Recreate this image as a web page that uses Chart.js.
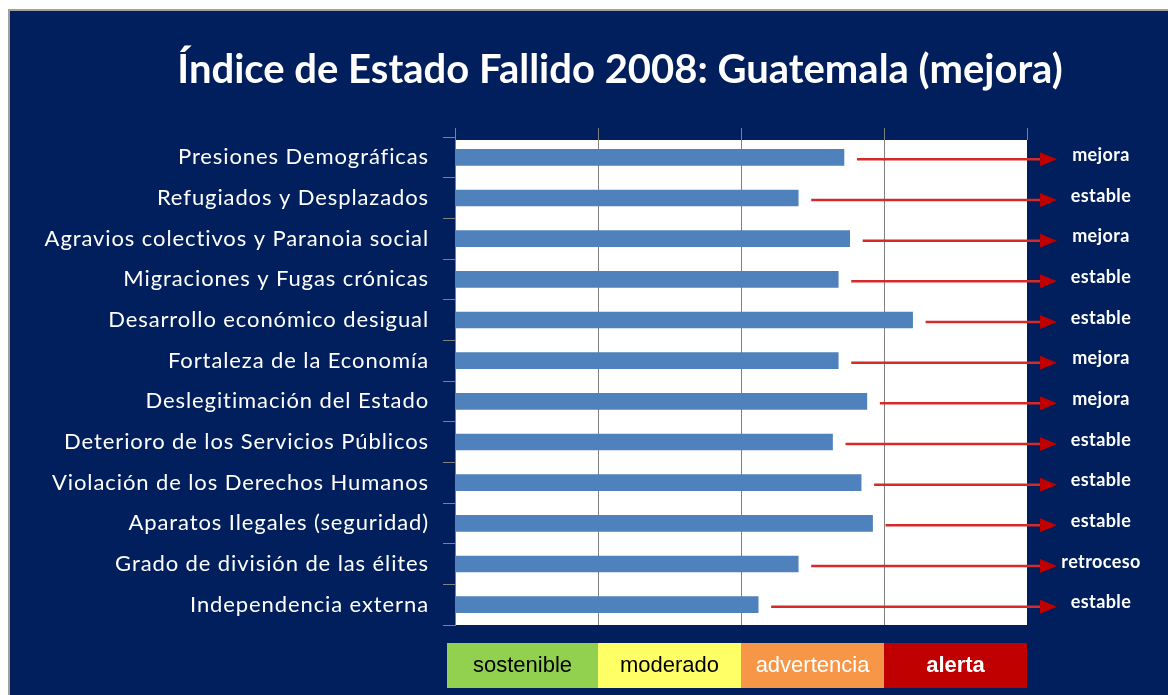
<!DOCTYPE html>
<html>
<head>
<meta charset="utf-8">
<script src="https://cdn.jsdelivr.net/npm/chart.js@4"></script>
<style>
  html, body { margin: 0; padding: 0; background: #fff; }
  #wrap { width: 1168px; height: 695px; position: relative; }
</style>
</head>
<body>
<div id="wrap"><canvas id="fsi"></canvas></div>
<script>
// Índice de Estado Fallido 2008 — Guatemala

const categories = [
  "Presiones Demográficas",
  "Refugiados y Desplazados",
  "Agravios colectivos y Paranoia social",
  "Migraciones y Fugas crónicas",
  "Desarrollo económico desigual",
  "Fortaleza de la Economía",
  "Deslegitimación del Estado",
  "Deterioro de los Servicios Públicos",
  "Violación de los Derechos Humanos",
  "Aparatos Ilegales (seguridad)",
  "Grado de división de las élites",
  "Independencia externa"
];
const scores = [6.8, 6.0, 6.9, 6.7, 8.0, 6.7, 7.2, 6.6, 7.1, 7.3, 6.0, 5.3];
const trends = ["mejora", "estable", "mejora", "estable", "estable", "mejora",
                "mejora", "estable", "estable", "estable", "retroceso", "estable"];
const zoneLabels = ["sostenible", "moderado", "advertencia", "alerta"];
const zoneColors = ["#92d050", "#ffff66", "#f79646", "#c00000"];
const zoneText = ["#000", "#000", "#fff", "#fff"];
const titleText = "Índice de Estado Fallido 2008: Guatemala (mejora)";

const NAVY = "#001f5c";

const decor = {
  id: "decor",
  beforeDraw(chart) {
    const ctx = chart.ctx;
    const a = chart.chartArea;
    ctx.save();
    ctx.fillStyle = "#fff";
    ctx.fillRect(0, 0, chart.width, chart.height);
    ctx.fillStyle = "#a0a0a0";
    ctx.fillRect(8, 9, chart.width, 3);
    ctx.fillRect(8, 9, 3, chart.height);
    ctx.fillStyle = NAVY;
    ctx.fillRect(10, 11, chart.width, chart.height);
    // plot area
    ctx.fillStyle = "#fff";
    ctx.fillRect(a.left, a.top + 3, a.right - a.left, a.bottom - a.top - 3);
    ctx.restore();
    // wider spacing for the category labels (Calibri look)
    ctx.letterSpacing = "0.9px";
  },
  afterDraw(chart) {
    const ctx = chart.ctx;
    const a = chart.chartArea;
    const x = chart.scales.x;
    const y = chart.scales.y;
    ctx.save();
    ctx.letterSpacing = "0px";

    // grid stubs above the plot
    ctx.strokeStyle = "#808080";
    ctx.lineWidth = 1;
    [0, 2.5, 5, 7.5, 10].forEach(v => {
      const px = Math.round(x.getPixelForValue(v)) + 0.5;
      ctx.beginPath();
      ctx.moveTo(px, a.top - 9);
      ctx.lineTo(px, a.top + 3);
      ctx.stroke();
    });

    // title
    ctx.fillStyle = "#fff";
    ctx.font = "bold 40px Lato";
    ctx.textAlign = "center";
    ctx.textBaseline = "middle";
    ctx.fillText(titleText, 620, 70);

    // trend arrows
    const tipX = x.getPixelForValue(10) + 30;
    scores.forEach((v, i) => {
      const cy = y.getPixelForValue(i) + 2;
      const sx = x.getPixelForValue(v) + 13;
      ctx.strokeStyle = "#d42a2a";
      ctx.lineWidth = 2.5;
      ctx.beginPath();
      ctx.moveTo(sx, cy);
      ctx.lineTo(tipX - 14, cy);
      ctx.stroke();
      ctx.fillStyle = "#c00000";
      ctx.beginPath();
      ctx.moveTo(tipX, cy);
      ctx.lineTo(tipX - 17, cy - 7);
      ctx.lineTo(tipX - 17, cy + 7);
      ctx.closePath();
      ctx.fill();

      ctx.fillStyle = "#fff";
      ctx.font = "bold 18px Lato";
      ctx.letterSpacing = "0.4px";
      ctx.textAlign = "center";
      ctx.fillText(trends[i], 1101, cy - 4);
      ctx.letterSpacing = "0px";
    });

    // zone legend
    const top = 643, h = 45;
    zoneLabels.forEach((lab, i) => {
      let l = x.getPixelForValue(i * 2.5);
      const r = x.getPixelForValue((i + 1) * 2.5);
      if (i === 0) l -= 8;
      ctx.fillStyle = zoneColors[i];
      ctx.fillRect(l, top, r - l, h);
      ctx.fillStyle = zoneText[i];
      ctx.font = (i === 3 ? "bold " : "") + "22px 'Liberation Sans'";
      ctx.textAlign = "center";
      ctx.fillText(lab, (l + r) / 2, top + h / 2);
    });
    ctx.restore();
  }
};

new Chart(document.getElementById("fsi"), {
  type: "bar",
  data: {
    labels: categories,
    datasets: [{
      data: scores,
      backgroundColor: "#4f81bd",
      borderWidth: 0,
      barThickness: 16
    }]
  },
  options: {
    indexAxis: "y",
    responsive: true,
    maintainAspectRatio: false,
    animation: false,
    layout: { padding: { top: 137, bottom: 70, right: 141, left: 0 } },
    plugins: {
      legend: { display: false },
      tooltip: { enabled: false }
    },
    scales: {
      x: {
        min: 0,
        max: 10,
        ticks: { display: false, stepSize: 2.5 },
        grid: {
          drawTicks: false,
          color: ctx => ctx.tick && ctx.tick.value === 10 ? "rgba(0,0,0,0)" : "#808080"
        },
        border: { display: false }
      },
      y: {
        afterFit: s => { s.width = 455; },
        ticks: {
          color: "#fff",
          font: { family: "Lato", size: 22 },
          padding: 14
        },
        grid: {
          offset: true,
          drawOnChartArea: false,
          tickLength: 12,
          color: "#808080"
        },
        border: { color: "#808080" }
      }
    }
  },
  plugins: [decor]
});
</script>
</body>
</html>
